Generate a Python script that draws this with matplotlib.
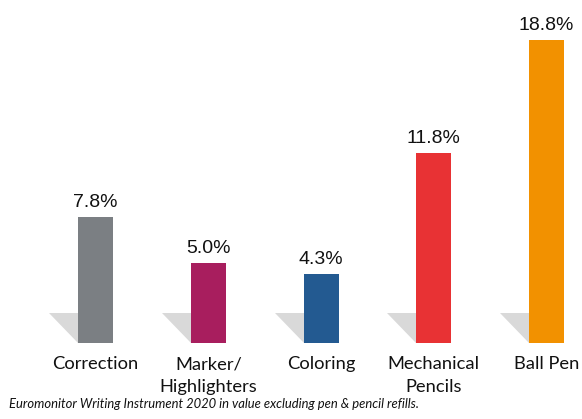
import matplotlib.pyplot as plt
from matplotlib.patches import Polygon

categories = ["Correction", "Marker/\nHighlighters", "Coloring", "Mechanical\nPencils", "Ball Pen"]
values = [7.8, 5.0, 4.3, 11.8, 18.8]
value_labels = ["7.8%", "5.0%", "4.3%", "11.8%", "18.8%"]
colors = ["#7b7f83", "#a81e5e", "#235a91", "#e83234", "#f29100"]
note = "Euromonitor Writing Instrument 2020 in value excluding pen & pencil refills."

plt.rcParams['font.family'] = ['Lato', 'DejaVu Sans']

W, H = 582, 419
fig = plt.figure(figsize=(W / 100, H / 100), dpi=100)

# axes spans full width; base line at pixel row 343
base_px = 343
ax = fig.add_axes([0, (H - base_px) / H, 1, base_px / H])
px_per_x = 112.75
px_per_y = 16.1
ax.set_xlim(-95.5 / px_per_x, (W - 95.5) / px_per_x)
ax.set_ylim(0, base_px / px_per_y)
ax.axis('off')

bar_w = 35 / px_per_x
sw = 29 / px_per_x
sh = 30 / px_per_y
for i, (v, c, lab, cat) in enumerate(zip(values, colors, value_labels, categories)):
    left = i - bar_w / 2
    # shadow triangle at the base
    ax.add_patch(Polygon([(left - sw, sh), (left, sh), (left, 0)],
                         closed=True, facecolor="#d9d9d9", edgecolor="none", zorder=1))
    ax.bar(i, v, width=bar_w, color=c, zorder=2)
    ax.text(i, v + 10 / px_per_y, lab, ha='center', va='baseline', fontsize=14,
            family='Liberation Sans', color='#111111')
    ax.text(i, -13 / px_per_y, cat, ha='center', va='top', fontsize=13.2, color='#111111',
            linespacing=1.5, clip_on=False)

fig.text(9 / W, 1 - 404 / H, note, ha='left', va='center', fontsize=9.4,
         style='italic', color='#111111')

fig.savefig("out.png", dpi=100)
